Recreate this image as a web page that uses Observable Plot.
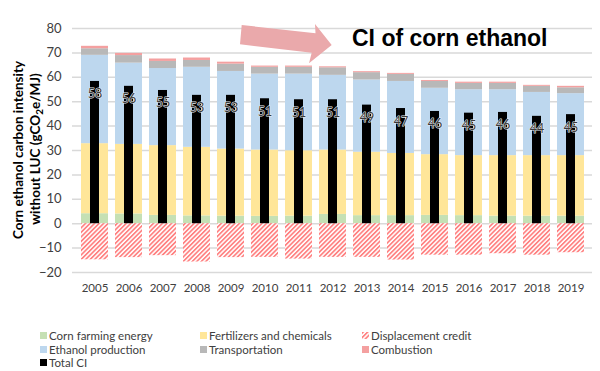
<!DOCTYPE html>
<html>
<head>
<meta charset="utf-8">
<script src="https://cdn.jsdelivr.net/npm/d3@7"></script>
<script src="https://cdn.jsdelivr.net/npm/@observablehq/plot@0.6"></script>
<style>
  body { margin:0; width:600px; height:371px; position:relative; background:#fff; overflow:hidden; font-family: Lato, "Open Sans", sans-serif; }
  #chart { position:absolute; left:0; top:0; }
  .ylab { position:absolute; white-space:nowrap; font-weight:bold; font-size:13.5px; line-height:15px; color:#000; transform: translate(-50%,-50%) rotate(-90deg); }
  #title { position:absolute; left:352px; top:27px; font-family:"Liberation Sans", Arial, sans-serif; font-weight:bold; font-size:23px; line-height:22px; color:#000; white-space:nowrap; }
  #legend { position:absolute; left:40px; top:329px; display:grid; grid-template-columns:160px 162px 200px; font-size:11.5px; line-height:13.5px; color:#404040; }
  #legend .item { display:flex; align-items:center; white-space:nowrap; height:13.5px; }
  #legend .sw { width:7px; height:7px; margin-right:2px; display:inline-block; flex:none; }
</style>
</head>
<body>
<svg width="0" height="0" style="position:absolute">
  <defs>
    <pattern id="hatch" patternUnits="userSpaceOnUse" width="3.2" height="3.2" patternTransform="rotate(45)">
      <rect width="3.2" height="3.2" fill="#ffffff"></rect>
      <rect width="1.7" height="3.2" fill="#ff8282"></rect>
    </pattern>
  </defs>
</svg>
<div id="chart"></div>
<svg id="arrow" width="600" height="80" style="position:absolute;left:0;top:0;pointer-events:none"></svg>
<div id="title">CI of corn ethanol</div>
<div class="ylab" style="left:18px;top:150px">Corn ethanol carbon intensity</div>
<div class="ylab" style="left:35px;top:149px">without LUC (gCO<sub style="font-size:10px;line-height:0">2</sub>e/MJ)</div>
<div id="legend"></div>
<script>
const years = ["2005","2006","2007","2008","2009","2010","2011","2012","2013","2014","2015","2016","2017","2018","2019"];
const cornFarming    = [4.1, 4.0, 3.4, 3.2, 3.1, 3.0, 3.1, 3.8, 3.3, 3.3, 3.4, 3.3, 3.1, 3.1, 3.1];
const fertilizers    = [28.7, 28.5, 28.6, 28.1, 27.5, 27.2, 26.8, 26.4, 26.0, 25.5, 24.9, 24.6, 24.8, 24.8, 24.8];
const ethanolProd    = [36.2, 33.3, 31.6, 32.8, 31.8, 31.1, 31.4, 30.6, 29.6, 29.5, 27.2, 27.0, 27.0, 25.9, 25.4];
const transportation = [2.7, 3.1, 2.9, 2.8, 3.0, 2.8, 2.8, 3.1, 3.0, 2.9, 2.8, 2.6, 2.6, 2.5, 2.4];
const combustion     = [1.0, 0.9, 1.0, 1.0, 0.8, 0.5, 0.5, 0.4, 0.4, 0.4, 0.4, 0.5, 0.5, 0.4, 0.6];
const displacement   = [-14.8, -13.9, -13.1, -15.7, -13.9, -13.8, -14.5, -13.8, -13.8, -14.9, -12.9, -12.9, -12.3, -12.9, -11.9];
const totalCI        = [58.3, 56.3, 54.6, 52.6, 52.6, 51.2, 50.8, 50.8, 48.6, 47.2, 46.0, 45.3, 45.6, 44.0, 44.7];
const yTicks = [-20, -10, 0, 10, 20, 30, 40, 50, 60, 70, 80];

const cats = ["Corn farming energy","Fertilizers and chemicals","Ethanol production","Transportation","Combustion"];
const colors = ["#c5e0b4","#ffe699","#bdd7ee","#b8b8b8","#f4a0a0"];
const series = [cornFarming, fertilizers, ethanolProd, transportation, combustion];

const rows = years.flatMap((yr, i) => cats.map((c, j) => ({year: yr, cat: c, value: series[j][i]})));
const dispRows = years.map((yr, i) => ({year: yr, value: displacement[i]}));
const totRows = years.map((yr, i) => ({year: yr, value: totalCI[i]}));

const chart = Plot.plot({
  width: 600, height: 300,
  marginTop: 28, marginBottom: 28, marginLeft: 72, marginRight: 8,
  style: {fontFamily: "Lato, 'Open Sans', sans-serif", color: "#404040", background: "transparent"},
  x: {domain: years, paddingInner: 0.22, paddingOuter: 0.11, label: null},
  y: {domain: [-20, 80], label: null},
  color: {domain: cats, range: colors},
  marks: [
    Plot.gridY(yTicks, {stroke: "#d9d9d9", strokeOpacity: 1, strokeWidth: 1.5}),
    Plot.axisY(yTicks, {tickSize: 0, tickPadding: 11, fontSize: 13, label: null}),
    Plot.axisX({tickSize: 0, tickPadding: 11, fontSize: 11.5, label: null}),
    Plot.barY(rows, {x: "year", y: "value", fill: "cat", order: null}),
    Plot.barY(dispRows, {x: "year", y: "value", fill: "url(#hatch)"}),
    Plot.barY(totRows, {x: "year", y: "value", fill: "#000", insetLeft: 9, insetRight: 9}),
    Plot.text(totRows, {x: "year", y: "value", text: d => d3.format(".0f")(d.value), dy: 13,
      fontSize: 12.5, fill: "#3a3a3a", stroke: "#e8eef5", strokeWidth: 1.1})
  ]
});
document.getElementById("chart").appendChild(chart);

// decorative arrow annotation
const arrowPts = [[241.7,25],[315.5,33.3],[315,24],[331.7,45],[309,63.3],[311.7,52.7],[240,44.3]];
d3.select("#arrow").append("polygon")
  .attr("points", arrowPts.map(p => p.join(",")).join(" "))
  .attr("fill", "#eaa9ab");

// legend
const legendItems = [
  {label: "Corn farming energy", fill: "#c5e0b4"},
  {label: "Fertilizers and chemicals", fill: "#ffe699"},
  {label: "Displacement credit", fill: "url(#hatch)"},
  {label: "Ethanol production", fill: "#bdd7ee"},
  {label: "Transportation", fill: "#b8b8b8"},
  {label: "Combustion", fill: "#f4a0a0"},
  {label: "Total CI", fill: "#000"}
];
const leg = d3.select("#legend");
legendItems.forEach(it => {
  const d = leg.append("div").attr("class", "item");
  d.append("svg").attr("class", "sw").attr("width", 7).attr("height", 7)
    .append("rect").attr("width", 7).attr("height", 7).attr("fill", it.fill);
  d.append("span").text(it.label);
});
</script>
</body>
</html>
